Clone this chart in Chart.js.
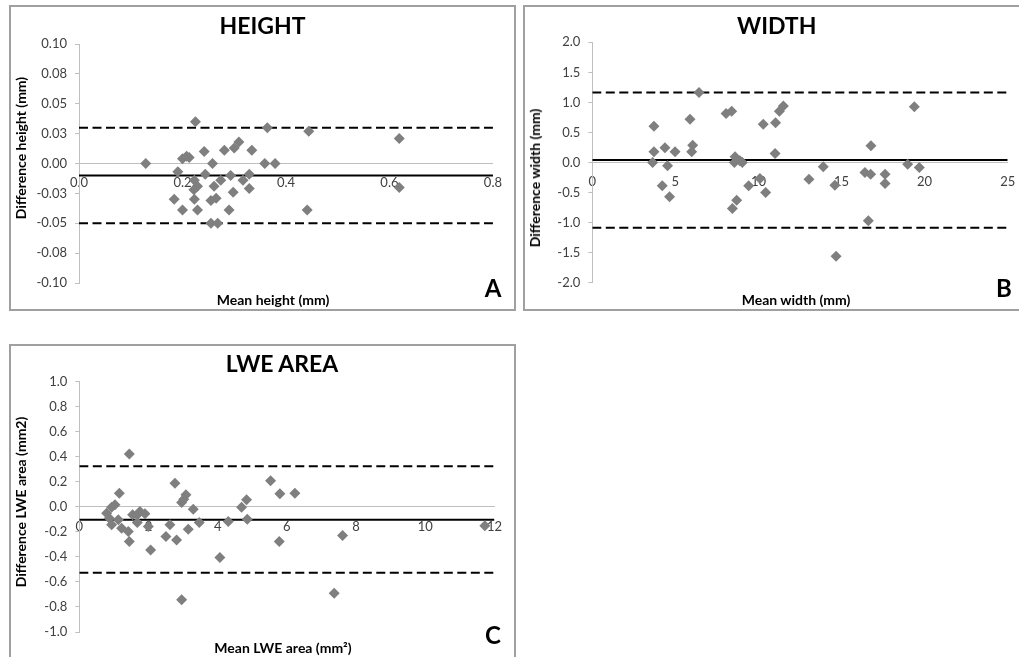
<!DOCTYPE html>
<html><head><meta charset="utf-8">
<script src="https://cdn.jsdelivr.net/npm/chart.js@4.4.0/dist/chart.umd.min.js"></script>
<style>
html,body{margin:0;padding:0;background:#fff;overflow:hidden;width:1019px;height:657px;}
.panel{position:absolute;border:2px solid #a0a0a0;box-sizing:border-box;}
.panel canvas{position:absolute;left:0;top:0;}
.t{position:absolute;transform:translate(-50%,-50%);white-space:nowrap;font-family:Lato,'DejaVu Sans',sans-serif;font-weight:bold;color:#000;line-height:1;z-index:5;}
.main{font-size:23px}
.ax{font-size:14px}
.ay{font-size:14px;transform:translate(-50%,-50%) rotate(-90deg)}
.let{font-size:24px}
</style></head><body>
<div class="panel" style="left:9px;top:5px;width:507px;height:306px"><canvas id="cA" width="503" height="302"></canvas></div>
<div class="panel" style="left:523px;top:5px;width:507px;height:306px"><canvas id="cB" width="503" height="302"></canvas></div>
<div class="panel" style="left:9px;top:344px;width:507px;height:320px"><canvas id="cC" width="503" height="316"></canvas></div>

<div class="t main" style="left:262.5px;top:25px">HEIGHT</div>
<div class="t ay" style="left:21px;top:147.5px">Difference height (mm)</div>
<div class="t ax" style="left:273px;top:300px">Mean height (mm)</div>
<div class="t let" style="left:493px;top:288px">A</div>

<div class="t main" style="left:776.7px;top:25px">WIDTH</div>
<div class="t ay" style="left:535px;top:178px">Difference width (mm)</div>
<div class="t ax" style="left:796px;top:300px">Mean width (mm)</div>
<div class="t let" style="left:1004px;top:288px">B</div>

<div class="t main" style="left:282px;top:363px">LWE AREA</div>
<div class="t ay" style="left:21px;top:502px">Difference LWE area (mm2)</div>
<div class="t ax" style="left:283px;top:648px">Mean LWE area (mm²)</div>
<div class="t let" style="left:493px;top:635px">C</div>

<script>
// ---- Panel A: HEIGHT ----
const heightMean = [0.129,0.225,0.364,0.444,0.619,0.619,0.441,0.359,0.379,0.200,0.213,0.242,0.258,0.281,0.300,0.309,0.334,0.191,0.223,0.244,0.229,0.261,0.274,0.293,0.317,0.329,0.329,0.298,0.184,0.223,0.255,0.265,0.200,0.229,0.290,0.255,0.268,0.208,0.222];
const heightDiff = [0.000,0.035,0.030,0.027,0.021,-0.020,-0.039,0.000,0.000,0.004,0.005,0.010,0.000,0.011,0.013,0.018,0.011,-0.007,-0.014,-0.009,-0.019,-0.019,-0.014,-0.010,-0.014,-0.009,-0.021,-0.024,-0.030,-0.030,-0.031,-0.029,-0.039,-0.039,-0.039,-0.050,-0.050,0.006,-0.022];
const heightBias = -0.010, heightUpper = 0.030, heightLower = -0.050;
const heightXTicks = [0, 0.2, 0.4, 0.6, 0.8];
const heightXLabels = ['0.0','0.2','0.4','0.6','0.8'];
const heightYTicks = [-0.10,-0.075,-0.05,-0.025,0,0.025,0.05,0.075,0.10];
const heightYLabels = ['-0.10','-0.08','-0.05','-0.03','0.00','0.03','0.05','0.08','0.10'];

// ---- Panel B: WIDTH ----
const widthMean = [3.71,3.63,3.71,4.37,4.98,4.53,4.21,4.65,5.88,6.04,5.98,6.42,8.05,8.39,8.59,8.55,9.03,8.69,8.43,9.41,10.09,10.29,10.43,11.03,11.00,11.26,11.50,13.04,13.90,14.60,14.67,16.41,16.75,16.77,16.61,17.62,17.62,18.98,19.38,19.68,8.88];
const widthDiff = [0.605,0.000,0.178,0.244,0.178,-0.055,-0.388,-0.571,0.721,0.288,0.178,1.165,0.816,0.854,0.094,0.000,0.000,-0.627,-0.766,-0.388,-0.266,0.638,-0.499,0.660,0.150,0.854,0.940,-0.277,-0.072,-0.377,-1.559,-0.166,-0.194,0.277,-0.971,-0.194,-0.350,-0.028,0.927,-0.083,0.030];
const widthBias = 0.040, widthUpper = 1.165, widthLower = -1.087;
const widthXTicks = [0,5,10,15,20,25];
const widthXLabels = ['0','5','10','15','20','25'];
const widthYTicks = [-2,-1.5,-1,-0.5,0,0.5,1,1.5,2];
const widthYLabels = ['-2.0','-1.5','-1.0','-0.5','0.0','0.5','1.0','1.5','2.0'];

// ---- Panel C: LWE AREA ----
const areaMean = [1.445,1.156,0.790,0.934,1.031,0.867,0.934,1.127,1.223,1.416,1.445,1.541,1.676,1.753,1.897,1.676,1.994,2.061,2.504,2.620,2.764,2.812,2.957,2.957,3.082,3.149,3.294,3.467,4.064,4.305,4.690,4.835,4.854,5.528,5.798,5.779,6.231,7.368,7.609,11.721,3.020];
const areaDiff = [0.423,0.109,-0.051,-0.003,0.016,-0.091,-0.144,-0.104,-0.170,-0.197,-0.277,-0.064,-0.064,-0.037,-0.056,-0.125,-0.157,-0.344,-0.237,-0.144,0.189,-0.264,-0.743,0.035,0.096,-0.178,-0.019,-0.125,-0.405,-0.117,-0.003,0.056,-0.099,0.208,0.104,-0.277,0.109,-0.690,-0.229,-0.152,0.060];
const areaBias = -0.104, areaUpper = 0.325, areaLower = -0.527;
const areaXTicks = [0,2,4,6,8,10,12];
const areaXLabels = ['0','2','4','6','8','10','12'];
const areaYTicks = [-1,-0.8,-0.6,-0.4,-0.2,0,0.2,0.4,0.6,0.8,1];
const areaYLabels = ['-1.0','-0.8','-0.6','-0.4','-0.2','0.0','0.2','0.4','0.6','0.8','1.0'];

const tickFont = {family:'Lato', size:13};
const tickColor = '#404040';
const axisColor = '#bfbfbf';

function makeChart(id, mean, diff, bias, up, low, xT, xL, yT, yL, area) {
  const pts = mean.map((m, i) => ({x: m, y: diff[i]}));
  const xMin = xT[0], xMax = xT[xT.length - 1];
  const line = (v, dash) => ({
    data: [{x: xMin, y: v}, {x: xMax, y: v}],
    showLine: true, borderColor: '#000', borderWidth: 2, borderDash: dash,
    pointRadius: 0, pointHoverRadius: 0, fill: false, tension: 0, order: 1
  });
  return new Chart(document.getElementById(id), {
    type: 'scatter',
    data: {datasets: [
      {data: pts, pointStyle: 'rectRot', pointRadius: 5.5, pointHoverRadius: 5.5,
       backgroundColor: '#7f7f7f', borderColor: '#7f7f7f', borderWidth: 0, order: 0},
      line(up, [9, 4.5]), line(low, [9, 4.5]), line(bias, [])
    ]},
    options: {
      responsive: false, animation: false, events: [],
      layout: {padding: {left: 0, top: area.top, right: area.right, bottom: area.bottom}},
      plugins: {legend: {display: false}, tooltip: {enabled: false}, title: {display: false}},
      scales: {
        x: {
          type: 'linear', position: {y: 0}, min: xMin, max: xMax,
          afterBuildTicks: s => { s.ticks = xT.map(v => ({value: v})); },
          ticks: {callback: (v, i) => xL[i], color: tickColor, font: tickFont, padding: 12, maxRotation: 0, autoSkip: false},
          grid: {display: true, drawOnChartArea: false, drawTicks: false, color: axisColor},
          border: {display: true, color: axisColor, width: 1}
        },
        y: {
          type: 'linear', position: 'left', min: yT[0], max: yT[yT.length - 1],
          afterBuildTicks: s => { s.ticks = yT.map(v => ({value: v})); },
          afterFit: s => { s.width = area.left; },
          ticks: {callback: (v, i) => yL[i], color: tickColor, font: tickFont, padding: 8, autoSkip: false},
          grid: {display: true, drawOnChartArea: false, drawTicks: true, tickLength: 4, color: axisColor},
          border: {display: true, color: axisColor, width: 1}
        }
      }
    }
  });
}

makeChart('cA', heightMean, heightDiff, heightBias, heightUpper, heightLower,
  heightXTicks, heightXLabels, heightYTicks, heightYLabels, {left: 68, top: 37, right: 19, bottom: 26});
makeChart('cB', widthMean, widthDiff, widthBias, widthUpper, widthLower,
  widthXTicks, widthXLabels, widthYTicks, widthYLabels, {left: 67.3, top: 35.3, right: 20.3, bottom: 26.3});
makeChart('cC', areaMean, areaDiff, areaBias, areaUpper, areaLower,
  areaXTicks, areaXLabels, areaYTicks, areaYLabels, {left: 68.3, top: 35.7, right: 19.3, bottom: 30});
</script>
</body></html>
